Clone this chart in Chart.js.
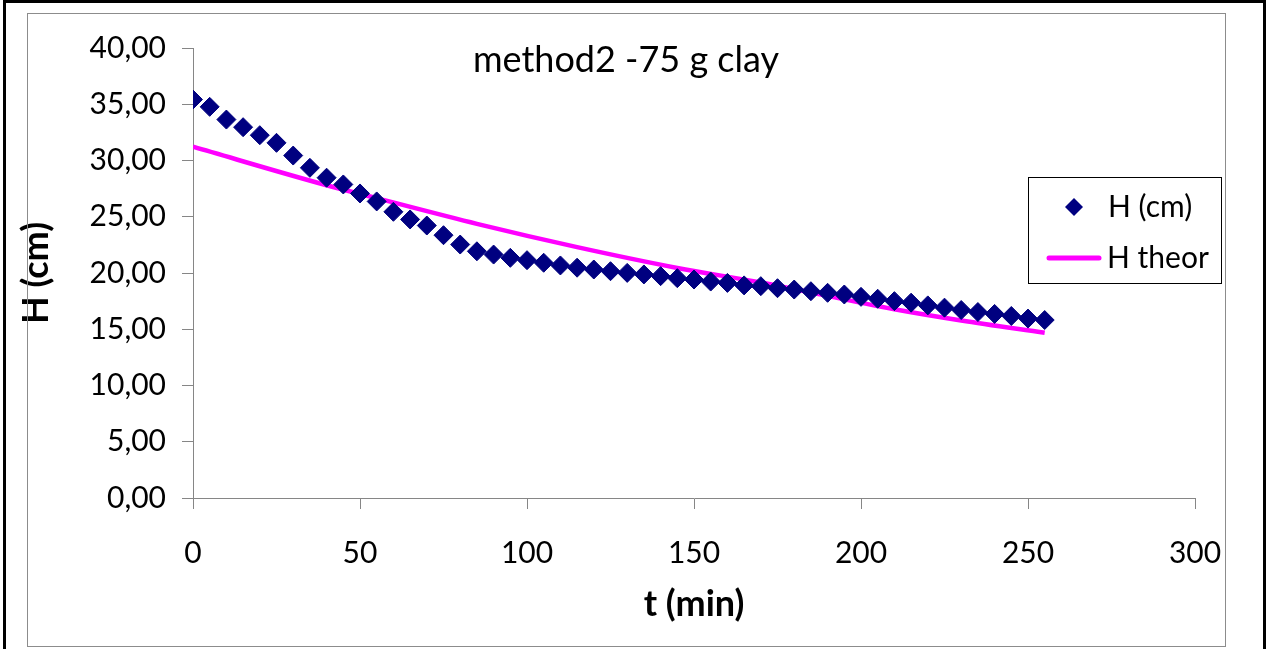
<!DOCTYPE html>
<html>
<head>
<meta charset="utf-8">
<script src="https://cdn.jsdelivr.net/npm/chart.js@4.4.1/dist/chart.umd.min.js"></script>
<style>
  html, body { margin: 0; padding: 0; background: #fff; overflow: hidden; }
  #wrap { position: relative; width: 1270px; height: 649px; }
  #graph { position: absolute; left: 0; top: 0; }
  .frame { position: absolute; pointer-events: none; box-sizing: border-box; }
  #outer { left: 3px; top: 0; width: 1263px; height: 700px; border: 3px solid #000; }
  #chartBox { left: 27px; top: 13px; width: 1199px; height: 634px; border: 1px solid #8c8c8c; }
</style>
</head>
<body>
<div id="wrap">
  <canvas id="graph" width="1270" height="649"></canvas>
  <div class="frame" id="outer"></div>
  <div class="frame" id="chartBox"></div>
</div>
<script>
// ---- données ----
const temps = [0, 5, 10, 15, 20, 25, 30, 35, 40, 45, 50, 55, 60, 65, 70, 75, 80, 85,
               90, 95, 100, 105, 110, 115, 120, 125, 130, 135, 140, 145, 150, 155, 160, 165,
               170, 175, 180, 185, 190, 195, 200, 205, 210, 215, 220, 225, 230, 235, 240, 245, 250, 255];
const hauteur = [35.42, 34.77, 33.64, 32.96, 32.25, 31.57, 30.44, 29.35, 28.47, 27.87, 27.07, 26.36,
                 25.44, 24.76, 24.22, 23.36, 22.53, 21.93, 21.64, 21.35, 21.14, 20.91, 20.67, 20.47,
                 20.31, 20.16, 20.01, 19.87, 19.72, 19.54, 19.42, 19.24, 19.12, 18.90, 18.83, 18.65,
                 18.53, 18.38, 18.24, 18.09, 17.88, 17.71, 17.50, 17.36, 17.12, 16.92, 16.71, 16.53,
                 16.36, 16.18, 15.95, 15.82];
const tempsTheor = [0, 40, 55, 85, 115, 145, 170, 210, 230, 255];
const hauteurTheor = [31.22, 27.80, 26.65, 24.37, 22.30, 20.45, 19.15, 16.78, 15.78, 14.68];

const titre = 'method2 -75 g clay';
const police = 'Lato';

const bleu = '#000080';
const magenta = '#FF00FF';
const gris = '#868686';

const ptsMesure = temps.map((t, i) => ({ x: t, y: hauteur[i] }));
const ptsTheor = tempsTheor.map((t, i) => ({ x: t, y: hauteurTheor[i] }));

// titre + légende dessinés à la main (placés comme dans Excel)
const decor = {
    id: 'decor',
    afterDraw(chart) {
        const c = chart.ctx;
        c.save();
        c.fillStyle = '#000';
        c.font = `36px ${police}`;
        c.textAlign = 'center';
        c.textBaseline = 'middle';
        c.fillText(titre, 626, 60);

        // cadre de légende
        c.fillStyle = '#fff';
        c.fillRect(1028.5, 177.5, 193, 106);
        c.strokeStyle = '#000';
        c.lineWidth = 1;
        c.strokeRect(1028.5, 177.5, 193, 106);

        const ds = chart.data.datasets;
        c.fillStyle = ds[0].backgroundColor;
        c.beginPath();
        c.moveTo(1074, 198); c.lineTo(1083, 207); c.lineTo(1074, 216); c.lineTo(1065, 207);
        c.closePath(); c.fill();

        c.strokeStyle = ds[1].borderColor;
        c.lineWidth = 5;
        c.lineCap = 'round';
        c.beginPath();
        c.moveTo(1049, 258); c.lineTo(1099, 258); c.stroke();

        c.fillStyle = '#000';
        c.font = `30px ${police}`;
        c.textAlign = 'left';
        c.fillText(ds[0].label, 1108, 207);
        c.fillText(ds[1].label, 1107, 258);
        c.restore();
    }
};

new Chart(document.getElementById('graph'), {
    type: 'scatter',
    data: {
        datasets: [{
            label: 'H (cm)',
            data: ptsMesure,
            showLine: false,
            pointStyle: 'rectRot',
            pointRadius: 9.5,
            pointHoverRadius: 9.5,
            backgroundColor: bleu,
            borderColor: bleu,
            borderWidth: 1
        }, {
            label: 'H theor',
            data: ptsTheor,
            showLine: true,
            pointRadius: 0,
            borderColor: magenta,
            backgroundColor: magenta,
            borderWidth: 4.5,
            cubicInterpolationMode: 'monotone'
        }]
    },
    plugins: [decor],
    options: {
        responsive: false,
        animation: false,
        layout: { padding: { left: 15, right: 75, top: 48, bottom: 22 } },
        plugins: {
            legend: { display: false },
            title: { display: false },
            tooltip: { enabled: false }
        },
        scales: {
            x: {
                type: 'linear',
                min: 0, max: 300,
                afterFit(s) { s.height = 129; },
                ticks: {
                    stepSize: 50,
                    padding: 26,
                    color: '#000',
                    font: { family: police, size: 30 }
                },
                grid: { drawOnChartArea: false, tickLength: 11, color: gris },
                border: { color: gris, width: 1 },
                title: {
                    display: true, text: 't (min)', color: '#000',
                    padding: { top: 0, bottom: 1 },
                    font: { family: police, size: 36, weight: 'bold' }
                }
            },
            y: {
                min: 0, max: 40,
                afterFit(s) { s.width = 178; },
                ticks: {
                    stepSize: 5,
                    padding: 16,
                    color: '#000',
                    font: { family: police, size: 30 },
                    callback: v => v.toFixed(2).replace('.', ',')
                },
                grid: { drawOnChartArea: false, tickLength: 11, color: gris },
                border: { color: gris, width: 1 },
                title: {
                    display: true, text: 'H (cm)', color: '#000',
                    padding: { top: 0, bottom: 0 },
                    font: { family: police, size: 36, weight: 'bold' }
                }
            }
        }
    }
});
</script>
</body>
</html>
